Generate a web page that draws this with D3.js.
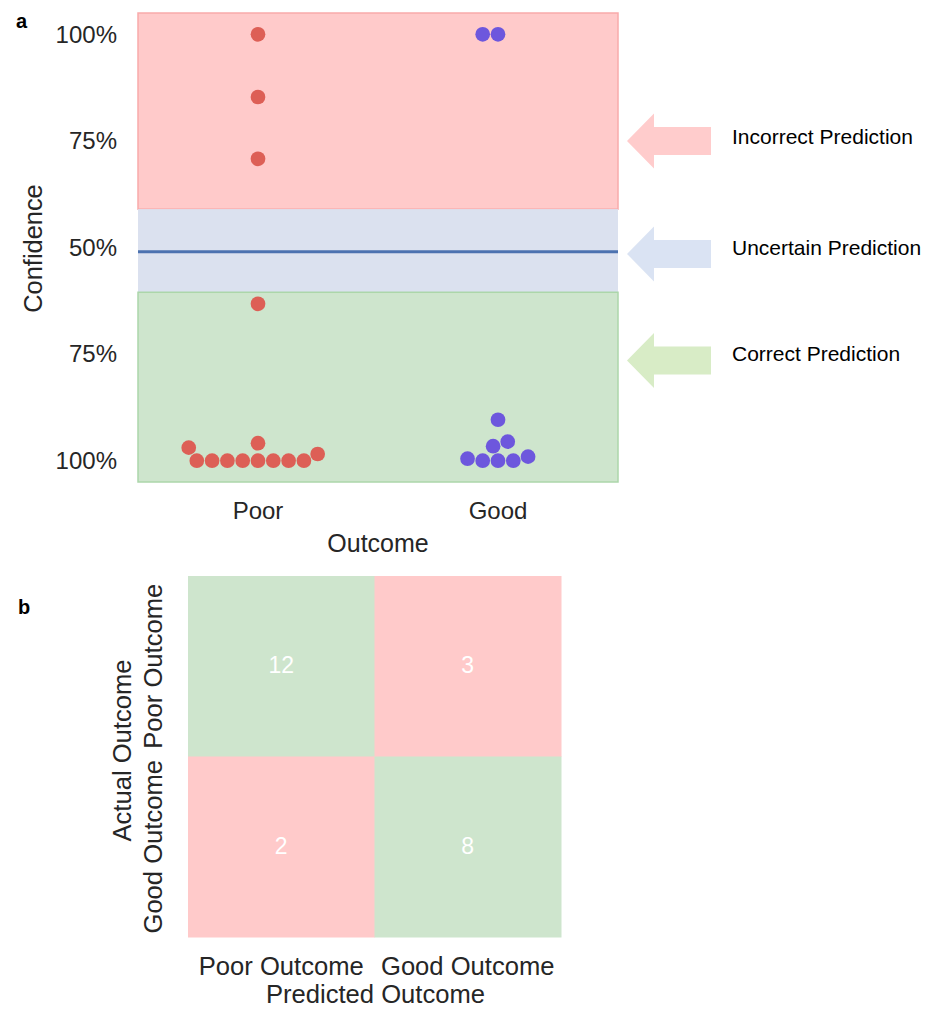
<!DOCTYPE html>
<html>
<head>
<meta charset="utf-8">
<script src="https://cdn.jsdelivr.net/npm/d3@7"></script>
<style>
  body { margin: 0; background: #fff; }
  text { font-family: "Liberation Sans", Arial, Helvetica, sans-serif; }
</style>
</head>
<body>
<svg id="fig" width="931" height="1009"></svg>
<script>
// ---- data -------------------------------------------------------------
const outcomes = ["Poor", "Good"];
// probability the model gave to the wrong outcome, one value per patient
const poorScores = [1.0, 0.853, 0.708, 0.368, 0.041, 0.0305, 0.0157, 0, 0, 0, 0, 0, 0, 0, 0];
const goodScores = [1.0, 1.0, 0.096, 0.0446, 0.034, 0.0094, 0.0047, 0, 0, 0];
const yTickValues = [1, 0.75, 0.5, 0.25, 0];
const yTickLabels = ["100%", "75%", "50%", "75%", "100%"];
const zoneNames = ["Incorrect Prediction", "Uncertain Prediction", "Correct Prediction"];
const zoneBounds = [[0.59, 1.05], [0.395, 0.59], [-0.05, 0.395]];
const referenceLine = 0.49;
const matrixLabels = ["Poor Outcome", "Good Outcome"];
const confusion = [[12, 3], [2, 8]];

// ---- styles -----------------------------------------------------------
const zoneFill = ["#ffcaca", "#dbe1ef", "#cee5cd"];
const zoneStroke = ["#f9abab", "none", "#acd6aa"];
const arrowFill = ["#ffcccc", "#dae3f3", "#d8ecc6"];
const dotColor = { Poor: "#dd5f56", Good: "#6d57dd" };
const textGray = "#262626";

const svg = d3.select("#fig");

// ---- panel a: confidence swarm ---------------------------------------
const A = { left: 138, right: 618, top: 13, bottom: 482 };
const x = d3.scaleBand().domain(outcomes).range([A.left, A.right]);
const y = d3.scaleLinear().domain([-0.05, 1.05]).range([A.bottom, A.top]);

const gA = svg.append("g");

gA.selectAll("rect.zone")
  .data(zoneBounds)
  .join("rect")
  .attr("class", "zone")
  .attr("x", A.left)
  .attr("width", A.right - A.left)
  .attr("y", d => y(d[1]))
  .attr("height", d => y(d[0]) - y(d[1]))
  .attr("fill", (d, i) => zoneFill[i])
  .attr("stroke", (d, i) => zoneStroke[i])
  .attr("stroke-width", 1.5);

gA.append("line")
  .attr("x1", A.left).attr("x2", A.right)
  .attr("y1", y(referenceLine)).attr("y2", y(referenceLine))
  .attr("stroke", "#4c72b0")
  .attr("stroke-width", 3);

// beeswarm: place each point (lowest value first) at the x closest to the
// category centre that does not overlap an already placed point
function swarm(values, cx, r) {
  const d = 2 * r;
  const pts = values.map(v => ({ v, y: y(v) })).sort((a, b) => a.v - b.v);
  const placed = [];
  for (const p of pts) {
    const near = placed.filter(q => Math.abs(q.y - p.y) < d);
    const cands = [cx];
    for (const q of near) {
      const dx = Math.sqrt(d * d - (q.y - p.y) ** 2);
      cands.push(q.x - dx, q.x + dx);
    }
    cands.sort((a, b) => {
      const da = Math.abs(a - cx), db = Math.abs(b - cx);
      return Math.abs(da - db) < 1e-6 ? a - b : da - db;
    });
    p.x = cx;
    for (const c of cands) {
      if (near.every(q => (q.x - c) ** 2 + (q.y - p.y) ** 2 >= d * d - 1e-6)) { p.x = c; break; }
    }
    placed.push(p);
  }
  return placed;
}

const layoutR = 7.65, drawR = 7.35;
const groups = [
  { outcome: "Poor", scores: poorScores },
  { outcome: "Good", scores: goodScores }
];
groups.forEach(g => {
  const pts = swarm(g.scores, x(g.outcome) + x.bandwidth() / 2, layoutR);
  gA.append("g").selectAll("circle")
    .data(pts)
    .join("circle")
    .attr("cx", d => d.x)
    .attr("cy", d => d.y)
    .attr("r", drawR)
    .attr("fill", dotColor[g.outcome]);
});

// y axis (no line, no tick marks)
const yAxis = d3.axisLeft(y)
  .tickValues(yTickValues)
  .tickFormat((d, i) => yTickLabels[i])
  .tickSize(0)
  .tickPadding(21);
const gy = gA.append("g").attr("transform", `translate(${A.left},0)`).call(yAxis);
gy.select(".domain").remove();
gy.selectAll("text")
  .attr("font-size", 24)
  .attr("fill", textGray)
  .attr("font-family", "Liberation Sans, Arial, sans-serif");

// x axis
const xAxis = d3.axisBottom(x).tickSize(0).tickPadding(20);
const gx = gA.append("g").attr("transform", `translate(0,${A.bottom})`).call(xAxis);
gx.select(".domain").remove();
gx.selectAll("text")
  .attr("font-size", 24)
  .attr("fill", textGray)
  .attr("font-family", "Liberation Sans, Arial, sans-serif");

gA.append("text")
  .attr("x", (A.left + A.right) / 2)
  .attr("y", 552)
  .attr("text-anchor", "middle")
  .attr("font-size", 25)
  .attr("fill", textGray)
  .text("Outcome");

gA.append("text")
  .attr("transform", `translate(42,${(A.top + A.bottom) / 2 + 1}) rotate(-90)`)
  .attr("text-anchor", "middle")
  .attr("font-size", 25.4)
  .attr("fill", textGray)
  .text("Confidence");

// zone call-outs: arrows pointing at the bands with their names
const arrowAt = [0.75, 0.485, 0.235];
const arrowShape = (cy) => {
  const tip = 627, neck = 654, tail = 711, head = 27.5, shaft = 14;
  return `M${tip},${cy} L${neck},${cy - head} L${neck},${cy - shaft} L${tail},${cy - shaft}` +
         ` L${tail},${cy + shaft} L${neck},${cy + shaft} L${neck},${cy + head} Z`;
};
const callouts = gA.append("g").selectAll("g")
  .data(zoneNames)
  .join("g");
callouts.append("path")
  .attr("d", (d, i) => arrowShape(y(arrowAt[i])))
  .attr("fill", (d, i) => arrowFill[i]);
callouts.append("text")
  .attr("x", 732)
  .attr("y", (d, i) => y(arrowAt[i]) + (i === 0 ? 3 : 1))
  .attr("font-size", 21)
  .attr("fill", "#000")
  .text(d => d);

svg.append("text")
  .attr("x", 16).attr("y", 28)
  .attr("font-size", 20).attr("font-weight", "bold")
  .text("a");

// ---- panel b: confusion matrix ---------------------------------------
const B = { left: 188, right: 561, top: 576, bottom: 937 };
const mx = d3.scaleBand().domain(matrixLabels).range([B.left, B.right]);
const my = d3.scaleBand().domain(matrixLabels).range([B.top, B.bottom]);

const cells = [];
confusion.forEach((row, i) => row.forEach((v, j) => cells.push({ actual: matrixLabels[i], predicted: matrixLabels[j], v, diag: i === j })));

const gB = svg.append("g");
gB.selectAll("rect")
  .data(cells)
  .join("rect")
  .attr("x", d => mx(d.predicted))
  .attr("y", d => my(d.actual))
  .attr("width", mx.bandwidth() + 0.5)
  .attr("height", my.bandwidth() + 0.5)
  .attr("fill", d => d.diag ? "#cee5cd" : "#ffcaca");

gB.selectAll("text.val")
  .data(cells)
  .join("text")
  .attr("class", "val")
  .attr("x", d => mx(d.predicted) + mx.bandwidth() / 2)
  .attr("y", d => my(d.actual) + my.bandwidth() / 2)
  .attr("dy", "0.3em")
  .attr("text-anchor", "middle")
  .attr("font-size", 23)
  .attr("fill", "#fff")
  .text(d => d.v);

// column labels
gB.selectAll("text.col")
  .data(matrixLabels)
  .join("text")
  .attr("class", "col")
  .attr("x", d => mx(d) + mx.bandwidth() / 2)
  .attr("y", 975)
  .attr("text-anchor", "middle")
  .attr("font-size", 25.6)
  .attr("fill", textGray)
  .text(d => d);

gB.append("text")
  .attr("x", (B.left + B.right) / 2 + 1)
  .attr("y", 1003)
  .attr("text-anchor", "middle")
  .attr("font-size", 25.6)
  .attr("fill", textGray)
  .text("Predicted Outcome");

// row labels (rotated)
gB.selectAll("text.row")
  .data(matrixLabels)
  .join("text")
  .attr("class", "row")
  .attr("transform", d => `translate(162,${my(d) + my.bandwidth() / 2}) rotate(-90)`)
  .attr("text-anchor", "middle")
  .attr("font-size", 25.6)
  .attr("fill", textGray)
  .text(d => d);

gB.append("text")
  .attr("transform", `translate(131,${(B.top + B.bottom) / 2 - 6}) rotate(-90)`)
  .attr("text-anchor", "middle")
  .attr("font-size", 25.6)
  .attr("fill", textGray)
  .text("Actual Outcome");

svg.append("text")
  .attr("x", 18).attr("y", 614)
  .attr("font-size", 20).attr("font-weight", "bold")
  .text("b");
</script>
</body>
</html>
